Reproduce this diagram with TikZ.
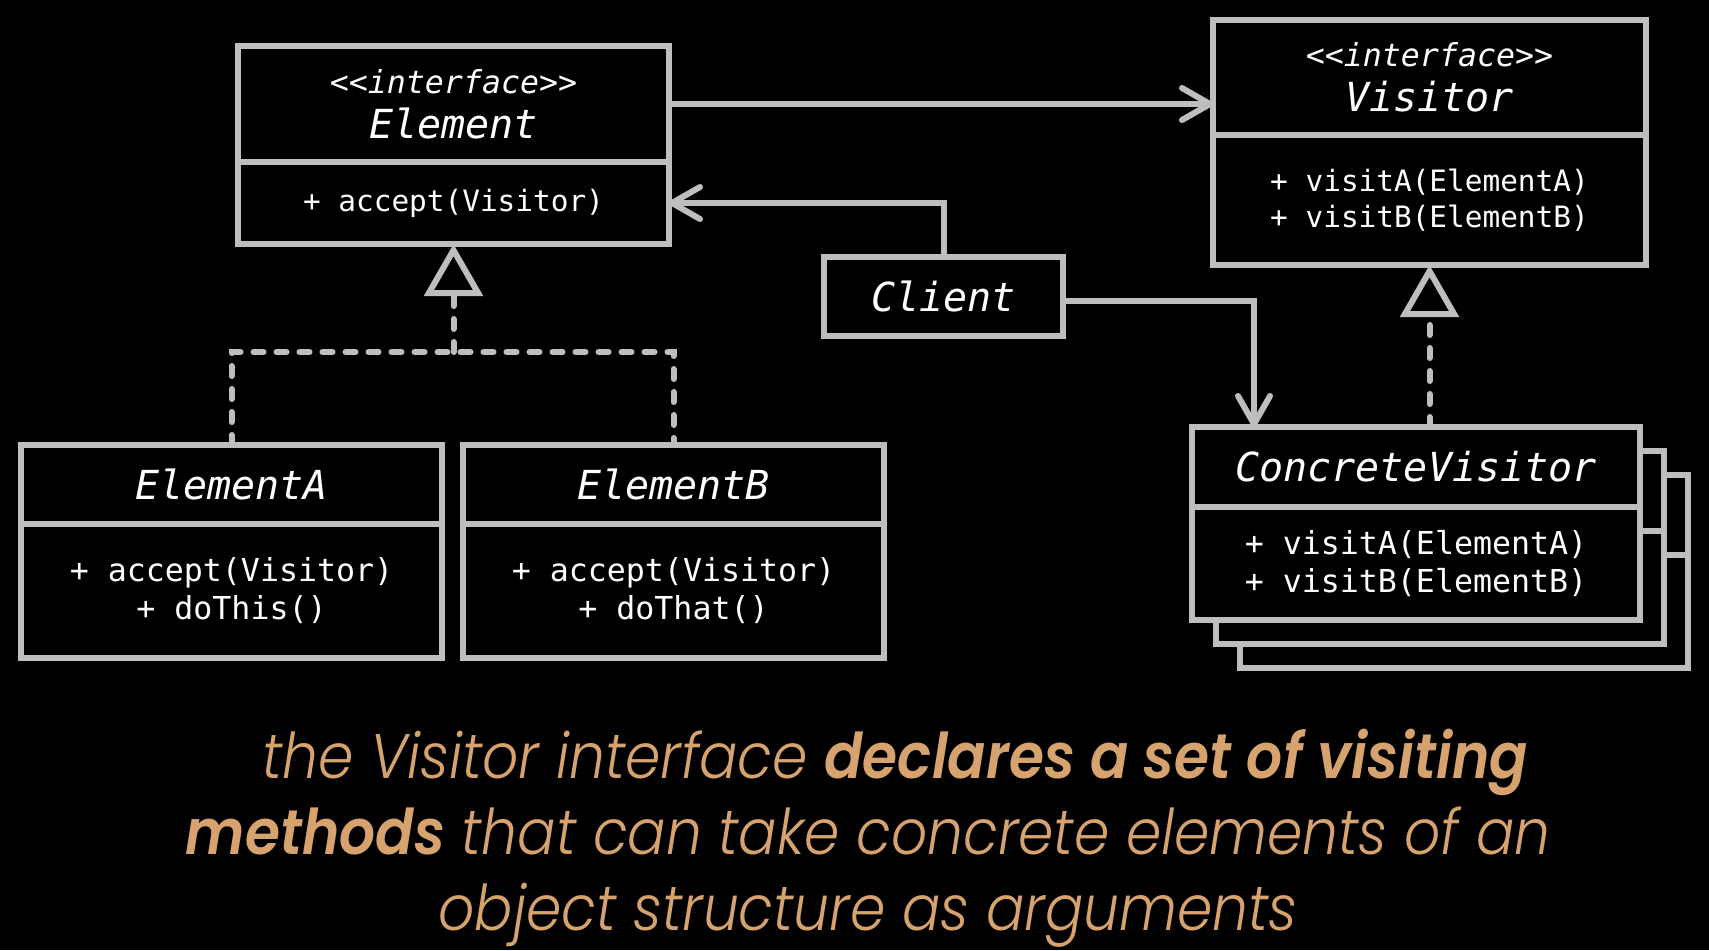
\documentclass[tikz,border=0pt]{standalone}
\usepackage{fontspec}
\usetikzlibrary{arrows.meta,positioning}
\newfontfamily\umlfont{DejaVu Sans Mono}
\newfontfamily\capfont{Poppins}[UprightFont={* Light Italic},BoldFont={* SemiBold Italic},FakeStretch=0.9]
\definecolor{linegray}{RGB}{190,190,190}
\definecolor{captan}{RGB}{214,163,111}
\newcommand{\umlstereo}[1]{{\fontsize{15.8}{19}\selectfont <{}<#1>{}>}}

\begin{document}
\begin{tikzpicture}[x=0.5pt, y=-0.5pt, line width=3pt,
    head/.style={draw=linegray, fill=black, text=white, inner sep=0pt, outer sep=0pt, align=center, font=\umlfont\itshape\fontsize{20}{22.5}\selectfont},
    body/.style={draw=linegray, fill=black, text=white, inner sep=0pt, outer sep=0pt, align=center, font=\umlfont\fontsize{15.8}{19}\selectfont},
    assoc/.style={draw=linegray, line cap=round, -{Straight Barb[length=14pt,width=16pt,round]}},
    realize/.style={draw=linegray, line cap=round, dash pattern=on 5pt off 6.5pt, -{Triangle[length=26pt,width=29pt,fill=black,line cap=butt]}},
    dashline/.style={draw=linegray, line cap=round, dash pattern=on 5pt off 6.5pt}
]
\fill[black] (0,0) rectangle (1709,950);
\useasboundingbox (0,0) rectangle (1709,950);

% Element interface
\node[head, minimum width=215.5pt, minimum height=58pt] (elemHead) at (453.5,104) {\umlstereo{interface}\\Element};
\node[body, minimum width=215.5pt, minimum height=41pt, below=0pt of elemHead, font=\umlfont\fontsize{14.7}{18}\selectfont] (elemBody) {+ accept(Visitor)};

% Visitor interface
\node[head, minimum width=216.5pt, minimum height=57.7pt] (visHead) at (1429.5,77.3) {\umlstereo{interface}\\Visitor};
\node[body, minimum width=216.5pt, minimum height=65pt, below=0pt of visHead, font=\umlfont\fontsize{14.7}{18}\selectfont] (visBody) {+ visitA(ElementA)\\+ visitB(ElementB)};

% Client
\node[head, minimum width=119.5pt, minimum height=39.5pt] (client) at (943.5,296.5) {Client};

% Concrete elements
\node[head, minimum width=210.5pt, minimum height=39.5pt] (elemAHead) at (231.5,484.5) {ElementA};
\node[body, minimum width=210.5pt, minimum height=67pt, below=0pt of elemAHead] (elemABody) {+ accept(Visitor)\\+ doThis()};
\node[head, minimum width=210.5pt, minimum height=39.5pt] (elemBHead) at (673.5,484.5) {ElementB};
\node[body, minimum width=210.5pt, minimum height=67pt, below=0pt of elemBHead] (elemBBody) {+ accept(Visitor)\\+ doThat()};

% Concrete visitors (stacked)
\foreach \d in {48,24} {
  \node[head, minimum width=224pt, minimum height=40pt] (cvHead\d) at (1416+\d,467+\d) {};
  \node[body, minimum width=224pt, minimum height=56.5pt, below=0pt of cvHead\d] (cvBody\d) {};
}
\node[head, minimum width=224pt, minimum height=40pt] (cvHead) at (1416,467) {ConcreteVisitor};
\node[body, minimum width=224pt, minimum height=56.5pt, below=0pt of cvHead] (cvBody) {+ visitA(ElementA)\\+ visitB(ElementB)};

% Associations
\draw[assoc] (elemHead.east) -- (elemHead.east -| visHead.west);
\draw[assoc] (client.north) |- (elemBody.east);
\draw[assoc] ([yshift=-2.25pt]client.east) -| ([xshift=31pt]cvHead.north west);

% Realizations
\draw[dashline] (elemAHead.north) -- ++(0,-93) coordinate (joinA) -| (elemBHead.north);
\draw[realize] (joinA -| elemBody.south) -- (elemBody.south);
\draw[realize] (cvHead.north -| visBody.south) -- (visBody.south);

% Caption
\node[font=\capfont\fontsize{31.5}{38}\selectfont, text=captan, align=center] (caption) at (868,838) {\hspace*{27pt}the Visitor interface \textbf{declares a set of visiting}\\\textbf{methods} that can take concrete elements of an\\object structure as arguments};

\end{tikzpicture}
\end{document}
